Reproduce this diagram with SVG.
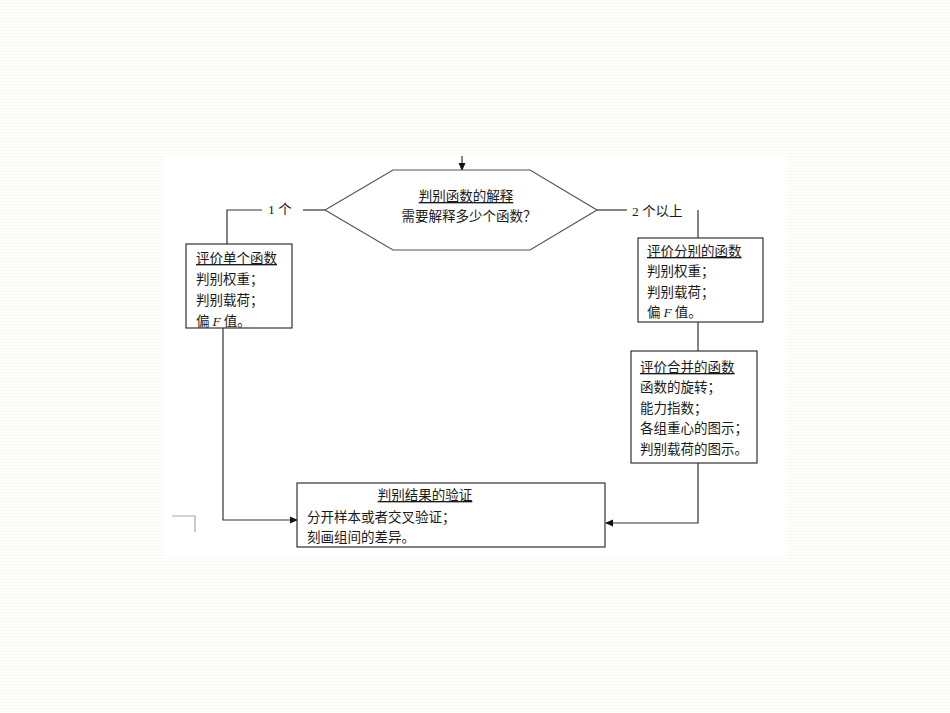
<svg xmlns="http://www.w3.org/2000/svg" width="950" height="713" viewBox="0 0 950 713">
<defs>
<pattern id="bg" width="4" height="3" patternUnits="userSpaceOnUse">
<rect width="4" height="3" fill="#fefefd"/>
<rect y="0" width="4" height="1" fill="#f8f7f1"/>
</pattern>
<marker id="ah" markerWidth="8" markerHeight="8" refX="7" refY="4" orient="auto" markerUnits="userSpaceOnUse">
<path d="M0,0.5 L8,4 L0,7.5 Z" fill="#111"/>
</marker>
<style>
text{font-family:"Noto Sans CJK SC","Liberation Sans",sans-serif;font-size:13.5px;fill:#1a1a1a}
.u{text-decoration:underline}
.box{fill:#fff;stroke:#333;stroke-width:1.2}
.hex{fill:#fff;stroke:#555;stroke-width:1.2}
.ln{fill:none;stroke:#333;stroke-width:1.2}
.lb{font-family:"Liberation Serif","Noto Sans CJK SC",serif}
</style>
</defs>
<rect width="950" height="713" fill="url(#bg)"/>
<rect x="163" y="155" width="624" height="401" fill="#fff"/>
<path d="M172,516 H195 V532" fill="none" stroke="#aaa" stroke-width="1.2"/>

<g id="connectors">
<line class="ln" x1="462" y1="156" x2="462" y2="170" marker-end="url(#ah)"/>
<path class="ln" d="M325,210 H303"/>
<path class="ln" d="M262,210 H227 V244"/>
<path class="ln" d="M223,328 V520 H297" marker-end="url(#ah)"/>
<path class="ln" d="M597,210 H627"/>
<path class="ln" d="M698,210 V238"/>
<path class="ln" d="M698,322 V351"/>
<path class="ln" d="M698,463 V523 H606" marker-end="url(#ah)"/>
<text x="268" y="214" class="lb">1 个</text>
<text x="632" y="216" class="lb">2 个以上</text>
</g>

<g id="decision">
<polygon class="hex" points="325,210 393,170 530,170 597,210 530,250 393,250"/>
<text x="466" y="201" text-anchor="middle" class="u">判别函数的解释</text>
<text x="469" y="221" text-anchor="middle">需要解释多少个函数？</text>
</g>

<g id="single">
<rect class="box" x="186" y="244" width="106" height="84"/>
<text x="196" y="263" class="u">评价单个函数</text>
<text x="196" y="284">判别权重；</text>
<text x="196" y="305">判别载荷；</text>
<text x="196" y="326">偏 <tspan font-style="italic" font-family="Liberation Serif">F</tspan> 值。</text>
</g>

<g id="separate">
<rect class="box" x="638" y="238" width="125" height="84"/>
<text x="647" y="256" class="u">评价分别的函数</text>
<text x="647" y="276">判别权重；</text>
<text x="647" y="297">判别载荷；</text>
<text x="647" y="317">偏 <tspan font-style="italic" font-family="Liberation Serif">F</tspan> 值。</text>
</g>

<g id="combined">
<rect class="box" x="631" y="351" width="126" height="112"/>
<text x="640" y="372" class="u">评价合并的函数</text>
<text x="640" y="392">函数的旋转；</text>
<text x="640" y="413">能力指数；</text>
<text x="640" y="433">各组重心的图示；</text>
<text x="640" y="454">判别载荷的图示。</text>
</g>

<g id="validation">
<rect class="box" x="297" y="483" width="308" height="64"/>
<text x="425" y="500" text-anchor="middle" class="u">判别结果的验证</text>
<text x="307" y="522">分开样本或者交叉验证；</text>
<text x="307" y="542">刻画组间的差异。</text>
</g>
</svg>
